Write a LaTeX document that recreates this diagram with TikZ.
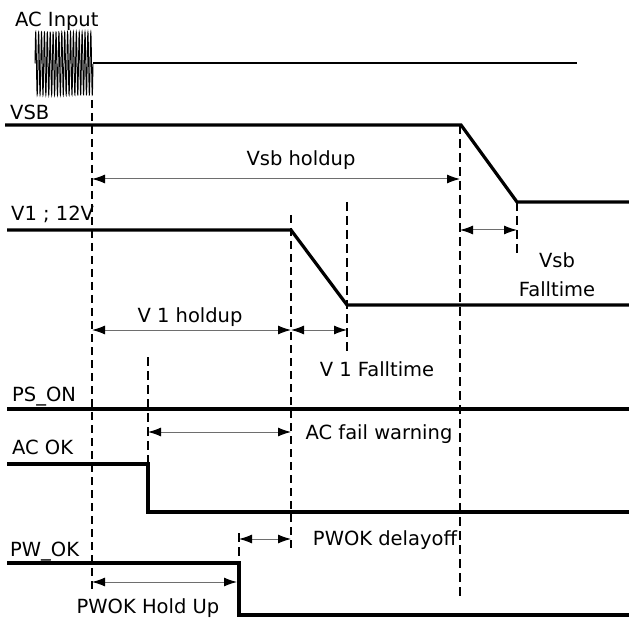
\documentclass[tikz,border=0pt]{standalone}
\usepackage{fontspec}
\setmainfont{DejaVu Sans}
\usetikzlibrary{arrows.meta}
\definecolor{dimgray}{RGB}{110,110,110}
\begin{document}
\begin{tikzpicture}[x=1pt,y=-1pt,
  sig/.style={line width=3.2pt, line join=miter},
  guide/.style={line width=1.3pt, dash pattern=on 8pt off 5pt},
  guidebold/.style={line width=2pt, dash pattern=on 9pt off 5pt},
  tip/.style={Latex[length=13pt,width=9pt,color=black]},
  dim/.style={line width=1pt, draw=dimgray, {Latex[length=13pt,width=9pt,color=black]}-{Latex[length=13pt,width=9pt,color=black]}},
  lbl/.style={font=\fontsize{19.5}{22}\selectfont, inner sep=0pt, anchor=base west},
  clbl/.style={font=\fontsize{19.5}{22}\selectfont, inner sep=0pt, anchor=base}]
\useasboundingbox (0,0) rectangle (629,620);

% signal names
\node[lbl] (acin) at (15,27) {AC Input};
\node[lbl] (vsb) at (10,120) {VSB};
\node[lbl] (v1) at (11,221) {V1 ; 12V};
\node[lbl] (pson) at (12,401) {PS\_ON};
\node[lbl] (acok) at (12,454) {AC OK};
\node[lbl] (pwok) at (10,556) {PW\_OK};

% timing labels
\node[clbl] (lvsbh) at (301,166) {Vsb holdup};
\node[clbl] (lvsbf1) at (557,268) {Vsb};
\node[clbl] (lvsbf2) at (557,297) {Falltime};
\node[clbl] (lv1h) at (190,323) {V 1 holdup};
\node[clbl] (lv1f) at (377,376) {V 1 Falltime};
\node[clbl] (lacf) at (379,439) {AC fail warning};
\node[clbl] (lpwd) at (385,545) {PWOK delayoff};
\node[clbl] (lpwh) at (148,613) {PWOK Hold Up};

% AC input burst and line
\draw[line width=0.9pt] plot[domain=0:58, samples=700] ({35+\x}, {63.5-31.5*sin(\x*124.14)});
\coordinate (acA) at (93,63);
\coordinate (acB) at (577,63);
\draw[line width=1.2pt] (acA) -- (acB);

% signals
\draw[sig] (5,125) -- (461,125) -- (517,202) -- (629,202);
\draw[sig] (7,230) -- (291,230) -- (347,305) -- (629,305);
\draw[sig] (7,409) -- (629,409);
\draw[sig] (7,464) -- (148,464) -- (148,512) -- (629,512);
\draw[sig] (7,563) -- (239,563) -- (239,615) -- (629,615);

% guide lines
\coordinate (g0a) at (92,100);  \coordinate (g0b) at (92,592);
\coordinate (g1a) at (148,357); \coordinate (g1b) at (148,464);
\coordinate (g2a) at (239,533); \coordinate (g2b) at (239,563);
\coordinate (g3a) at (291,215); \coordinate (g3b) at (291,550);
\coordinate (g4a) at (347,202); \coordinate (g4b) at (347,355);
\coordinate (g5a) at (460,125); \coordinate (g5b) at (460,600);
\coordinate (g6a) at (517,202); \coordinate (g6b) at (517,256);
\foreach \g in {0,3} {\draw[guide] (g\g a) -- (g\g b);}
\foreach \g in {1,2,4,5,6} {\draw[guidebold] (g\g a) -- (g\g b);}

% dimension arrows
\coordinate (d1a) at (92,179);  \coordinate (d1b) at (460,179);
\coordinate (d2a) at (460,230); \coordinate (d2b) at (517,230);
\coordinate (d3a) at (92,330);  \coordinate (d3b) at (291,330);
\coordinate (d4a) at (291,330); \coordinate (d4b) at (347,330);
\coordinate (d5a) at (148,432); \coordinate (d5b) at (291,432);
\coordinate (d6a) at (239,539); \coordinate (d6b) at (291,539);
\coordinate (d7a) at (92,582);  \coordinate (d7b) at (237,582);
\foreach \d in {1,...,7} {\draw[dim] (d\d a) -- (d\d b);}
\end{tikzpicture}
\end{document}
